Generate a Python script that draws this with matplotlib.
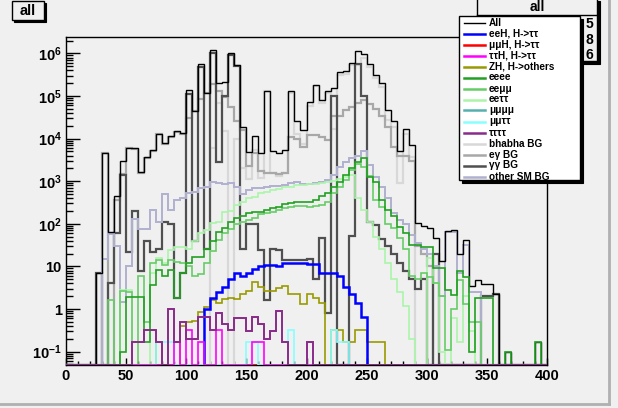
import numpy as np
import matplotlib
matplotlib.use('Agg')
import matplotlib.pyplot as plt
from matplotlib.patches import Rectangle
from matplotlib.lines import Line2D
from matplotlib.ticker import MultipleLocator, LogLocator, FixedLocator, FixedFormatter, NullFormatter

plt.rcParams['font.family'] = ['Liberation Sans', 'DejaVu Sans']
plt.rcParams['font.weight'] = 'bold'
plt.rcParams['mathtext.fontset'] = 'custom'
plt.rcParams['mathtext.rm'] = 'Liberation Sans:bold'
plt.rcParams['mathtext.default'] = 'rm'

# 5 GeV bins from 0 to 400
edges = np.arange(0, 405, 5)

eeH = [0, 0, 0, 0, 0, 0, 0, 0, 0, 0,
       0, 0, 0, 0, 0, 0, 0, 0, 0, 0,
       0, 0, 0, 1.0, 1.8, 2.5, 3.3, 5.0, 6.9, 5.8,
       6.9, 8.9, 10.3, 10.7, 10.7, 10.5, 11.8, 12.2, 11.8, 11.8,
       11.5, 11.5, 6.9, 6.9, 6.9, 5.8, 3.3, 2.3, 1.35, 0.66,
       0, 0, 0, 0, 0, 0, 0, 0, 0, 0,
       0, 0, 0, 0, 0, 0, 0, 0, 0, 0,
       0, 0, 0, 0, 0, 0, 0, 0, 0, 0]
mumuH = [0] * 80
tautauH = [0, 0, 0, 0, 0, 0, 0, 0, 0, 0,
           0, 0, 0, 0, 0, 0, 0, 0, 0.17, 0,
           0.32, 0, 0.17, 0, 0, 0.32, 0, 0, 0, 0,
           0, 0.17, 0.17, 0, 0, 0, 0, 0, 0, 0,
           0, 0, 0, 0, 0, 0, 0, 0, 0, 0,
           0, 0, 0, 0, 0, 0, 0, 0, 0, 0,
           0, 0, 0, 0, 0, 0, 0, 0, 0, 0,
           0, 0, 0, 0, 0, 0, 0, 0, 0, 0]
ZH = [0, 0, 0, 0, 0, 0, 0, 0, 0, 0,
      0, 0, 0, 0, 0, 0.17, 0, 0, 0, 0.4,
      0.5, 0.52, 0.87, 1.1, 1.6, 1.4, 1.7, 1.8, 1.7, 2.3,
      2.6, 4.2, 3.2, 2.7, 2.6, 3.1, 3.5, 2.2, 2.2, 1.3,
      2.2, 1.8, 1.4, 0, 0.32, 0.32, 0.17, 0.17, 0.32, 0.32,
      0.17, 0.17, 0.17, 0, 0, 0, 0, 0, 0, 0,
      0, 0, 0, 0, 0, 0, 0, 0, 0, 0,
      0, 0, 0, 0, 0, 0, 0, 0, 0, 0]
eeee = [0, 0, 0, 0, 0, 0, 0, 0, 0, 0.1,
        1.9, 1.9, 1.9, 0.17, 3.6, 8.3, 5.9, 8.3, 1.8, 6.9,
        12, 17, 17, 26, 40, 66, 78, 112, 135, 150,
        178, 190, 185, 210, 230, 250, 290, 310, 330, 330,
        330, 360, 440, 520, 740, 980, 1400, 2000, 2900, 3600,
        1260, 980, 370, 210, 150, 85, 60, 32, 32, 29,
        29, 9, 9, 2.8, 2.1, 8, 5.5, 0.1, 1.8, 1.8,
        1.8, 0, 0, 0.1, 0, 0, 0, 0, 0.17, 0]
eemumu = [0, 0, 0, 0, 0, 0, 0, 1.6, 0, 2.6,
          2.5, 0, 5.8, 0.5, 12, 14, 11, 14, 13, 12,
          10, 6, 6.6, 12, 23, 42, 60, 75, 100, 110,
          120, 135, 170, 180, 190, 210, 230, 245, 260, 265,
          250, 260, 275, 320, 530, 740, 1070, 1800, 2600, 2200,
          1300, 360, 250, 100, 78, 46, 26, 5.8, 5.2, 6.9,
          5.5, 4, 2, 0.11, 1, 4.8, 1.3, 0.5, 0.5, 0,
          0, 0, 0, 0, 0, 0, 0, 0, 0, 0]
eetautau = [0, 0, 0, 0, 0, 0, 0, 0, 0, 2.8,
            2.8, 0, 0, 0, 7, 16, 12, 24, 28, 29,
            26, 40, 60, 70, 107, 110, 190, 200, 275, 330,
            400, 420, 525, 560, 620, 640, 720, 740, 810, 830,
            850, 870, 900, 980, 1000, 1100, 1250, 1400, 400, 210,
            110, 50, 25, 12, 5, 2.5, 1.2, 0.2, 0, 0,
            16, 4, 0.1, 0, 0.6, 0.17, 2, 0.3, 0, 0,
            0, 0, 0, 0, 0, 0, 0, 0, 0, 0]
mumumumu = [0] * 80
mumutautau = [0, 0, 0, 0, 0, 0, 0, 0, 0, 0,
              0, 0, 0, 0, 0, 0.17, 0.17, 0.17, 0, 0,
              0, 0, 0, 0, 0, 0, 0, 0, 0, 0,
              0.17, 0.17, 0, 0, 0, 0, 0, 0.32, 0, 0,
              0, 0, 0, 0, 0.32, 0.17, 0.17, 0, 0, 0,
              0, 0, 0, 0, 0, 0, 0, 0, 0, 0,
              0, 0, 0, 0, 0, 0, 0, 0, 0, 0,
              0, 0, 0, 0, 0, 0, 0, 0, 0, 0]
tautautautau = [0, 0, 0, 0, 0, 0, 0, 0, 0, 0,
                0, 0.17, 0.17, 0.32, 0.32, 0.17, 0, 1.0, 0.17, 0.5,
                0.2, 0.2, 0.66, 0.66, 0.32, 0.8, 0.45, 0.32, 0.6, 0.6,
                0.3, 0.66, 0.45, 0.2, 0.3, 0.9, 0.17, 0, 0, 0,
                0.17, 0, 0, 0, 0, 0, 0, 0, 0, 0,
                0, 0, 0, 0, 0, 0, 0, 0, 0, 0,
                0, 0, 0, 0, 0, 0, 0, 0, 0, 0,
                0, 0, 0, 0, 0, 0, 0, 0, 0, 0]
bhabha = [0, 0, 0, 0, 0, 0, 0, 0, 0, 0,
          0, 0, 0, 0, 0, 0, 0, 0, 0, 0,
          0, 0, 0, 0, 6000, 70000, 15000, 0, 10000, 2000,
          1100, 5500, 1200, 128000, 1600, 1300, 1600, 115000, 13000, 7300,
          57000, 168000, 67000, 120000, 17000, 318000, 325000, 534000, 530000, 800000,
          485000, 260000, 166000, 28000, 18500, 900, 12600, 3800, 0, 0,
          0, 0, 0, 0, 0, 0, 0, 0, 0, 0,
          0, 0, 0, 0, 0, 0, 0, 0, 0, 0]
egamma = [0, 0, 0, 0, 0, 0, 4700, 0, 360, 1500,
          6000, 5800, 1600, 3500, 5200, 13000, 7400, 11000, 14500, 13000,
          30000, 45000, 87000, 115000, 190000, 130000, 95000, 56000, 26000, 16000,
          2300, 4500, 1700, 1600, 1600, 1500, 1600, 11000, 10000, 6500,
          12000, 12000, 11000, 9300, 34000, 34000, 47000, 56000, 69000, 79000,
          65000, 49000, 34000, 19000, 6500, 4000, 4000, 3000, 30, 20,
          10, 0, 0, 0, 0, 0, 0, 0, 0, 0,
          0, 0, 0, 0, 0, 0, 0, 0, 0, 0]
gammagamma = [0, 0, 0, 0, 0, 7, 0, 4, 60, 1400,
              22, 200, 8, 40, 22, 25, 110, 100, 1.8, 7,
              110000, 40, 480000, 25, 1000000, 2900, 100000, 940000, 500000, 25,
              100, 100, 24, 1.6, 26, 24, 14, 14, 14, 14,
              15, 5, 46, 0.8, 100000, 0, 0, 51, 550000, 100000,
              110, 95, 45, 30, 20, 12, 8, 5, 3, 5,
              0, 20, 0, 0, 0, 0, 0, 0, 0, 2,
              2, 2.2, 0, 0, 0, 0, 0, 0, 0, 0]
otherSM = [0, 0, 0, 0, 0, 0, 15, 58, 30, 1.5,
           10, 128, 74, 74, 210, 112, 490, 210, 370, 400,
           525, 570, 680, 740, 970, 900, 850, 900, 740, 510,
           620, 680, 700, 740, 760, 780, 830, 900, 980, 850,
           870, 930, 960, 1070, 1400, 2200, 2900, 3500, 3900, 5200,
           2400, 1260, 740, 400, 180, 126, 100, 55, 35, 26,
           20, 10, 2, 66, 66, 7, 32, 2.5, 2.5, 0,
           0, 0, 0, 0, 0, 0, 0, 0, 0, 0]

labels = ['All', 'eeH, H->ττ', 'μμH, H->ττ', 'ττH, H->ττ', 'ZH, H->others',
          'eeee', 'eeμμ', 'eeττ', 'μμμμ', 'μμττ', 'ττττ',
          'bhabha BG', 'eγ BG', 'γγ BG', 'other SM BG']
colors = ['#000000', '#0000ff', '#ff0000', '#ff00ff', '#999900',
          '#22a022', '#66cc66', '#aaf5aa', '#55b0b0', '#88ffff', '#8a2a8a',
          '#d8d8d8', '#a8a8a8', '#505050', '#b0b0d0']

# stats box: only the trailing digits stick out beside the legend
stat_tail = ['5', '8', '6']

components = [eeH, mumuH, tautauH, ZH, eeee, eemumu, eetautau, mumumumu,
              mumutautau, tautautautau, bhabha, egamma, gammagamma, otherSM]
total = np.sum(np.array(components, dtype=float), axis=0)

W, H = 618, 408
YMIN, YMAX = 0.0485, 2.43e6

fig = plt.figure(figsize=(W / 100, H / 100), dpi=100)
fig.patch.set_facecolor('#f0f0f0')
ax = fig.add_axes([66 / W, 1 - 365 / H, (547 - 66) / W, (365 - 37) / H])
ax.set_facecolor('#f0f0f0')
ax.set_yscale('log')
ax.set_xlim(0, 400)
ax.set_ylim(YMIN, YMAX)


def hist(vals, color, lw, z):
    v = np.array(vals, dtype=float)
    v[v < YMIN] = YMIN
    ax.stairs(v, edges, baseline=None, color=color, lw=lw, zorder=z)


# backgrounds underneath, total on top of them, then the signal samples
hist(bhabha, colors[11], 1.6, 3)
hist(egamma, colors[12], 1.6, 3.1)
hist(gammagamma, colors[13], 1.6, 3.2)
hist(otherSM, colors[14], 1.4, 3.3)
hist(total, colors[0], 1.0, 3.4)
hist(eetautau, colors[7], 1.2, 3.5)
hist(eemumu, colors[6], 1.2, 3.6)
hist(eeee, colors[5], 1.2, 3.7)
hist(mumumumu, colors[8], 1.2, 3.75)
hist(ZH, colors[4], 1.2, 3.8)
hist(eeH, colors[1], 1.8, 3.9)
hist(mumuH, colors[2], 1.2, 3.95)
hist(mumutautau, colors[9], 1.2, 4.0)
hist(tautauH, colors[3], 1.2, 4.1)
hist(tautautautau, colors[10], 1.4, 4.2)

for s in ax.spines.values():
    s.set_color('black')
    s.set_linewidth(1.0)
    s.set_zorder(2.5)

ax.xaxis.set_major_locator(MultipleLocator(50))
ax.xaxis.set_minor_locator(MultipleLocator(10))
ax.tick_params(axis='x', which='major', direction='in', length=5, width=1, labelsize=10.5, pad=3, top=False)
ax.tick_params(axis='x', which='minor', direction='in', length=3, width=1, top=False)

decades = [0.1, 1, 10, 100, 1e3, 1e4, 1e5, 1e6]
ytexts = [r'$10^{-1}$', '1', '10', r'$10^{2}$', r'$10^{3}$', r'$10^{4}$', r'$10^{5}$', r'$10^{6}$']
ax.yaxis.set_major_locator(FixedLocator(decades))
ax.yaxis.set_major_formatter(FixedFormatter(ytexts))
ax.yaxis.set_minor_locator(LogLocator(base=10, subs=np.arange(2, 10), numticks=20))
ax.yaxis.set_minor_formatter(NullFormatter())
ax.tick_params(axis='y', which='major', direction='in', length=10, width=1, labelsize=10.5, pad=3, right=False)
ax.tick_params(axis='y', which='minor', direction='in', length=5, width=1, right=False)
for t in ax.get_xticklabels() + ax.get_yticklabels():
    t.set_fontweight('bold')


def fx(x):
    return x / W


def fy(y):
    return 1 - y / H


def box(x0, y0, x1, y1, face, shadow, z):
    fig.add_artist(Rectangle((fx(x0 + shadow), fy(y1 + shadow)), fx(x1 - x0), (y1 - y0) / H,
                             facecolor='black', edgecolor='black', lw=0.8, zorder=z))
    fig.add_artist(Rectangle((fx(x0), fy(y1)), fx(x1 - x0), (y1 - y0) / H,
                             facecolor=face, edgecolor='black', lw=1.0, zorder=z + 0.1))


# pad bevel
fig.add_artist(Line2D([fx(609), fx(609)], [fy(0), fy(404)], color='#b0b0b0', lw=2, zorder=1))
fig.add_artist(Line2D([fx(0), fx(609)], [fy(404), fy(404)], color='#b0b0b0', lw=2, zorder=1))

# title box
box(12, 1, 44, 20, '#f0f0f0', 2, 5)
fig.text(fx(28), fy(11), 'all', ha='center', va='center', fontsize=10.5, fontweight='bold', zorder=6)

# statistics box
box(477, -2, 597, 61, '#f0f0f0', 3, 5)
fig.add_artist(Line2D([fx(477), fx(597)], [fy(15), fy(15)], color='black', lw=1, zorder=5.2))
fig.text(fx(537), fy(7), 'all', ha='center', va='center', fontsize=10, fontweight='bold', zorder=6)
for i, v in enumerate(stat_tail):
    fig.text(fx(593), fy(24 + 15.5 * i), v, ha='right', va='center', fontsize=10,
             fontweight='bold', zorder=6)

# legend
box(459, 16, 580, 180, 'white', 3, 7)
for i, (lab, col) in enumerate(zip(labels, colors)):
    y = 22.5 + 11.0 * i
    lw = 1.0 if i == 0 else 1.8
    fig.add_artist(Line2D([fx(464), fx(485)], [fy(y), fy(y)], color=col, lw=lw, zorder=8))
    fig.text(fx(489), fy(y), lab, ha='left', va='center', fontsize=7.2, fontweight='bold', zorder=8)

fig.savefig('out.png', dpi=100, facecolor=fig.get_facecolor())
